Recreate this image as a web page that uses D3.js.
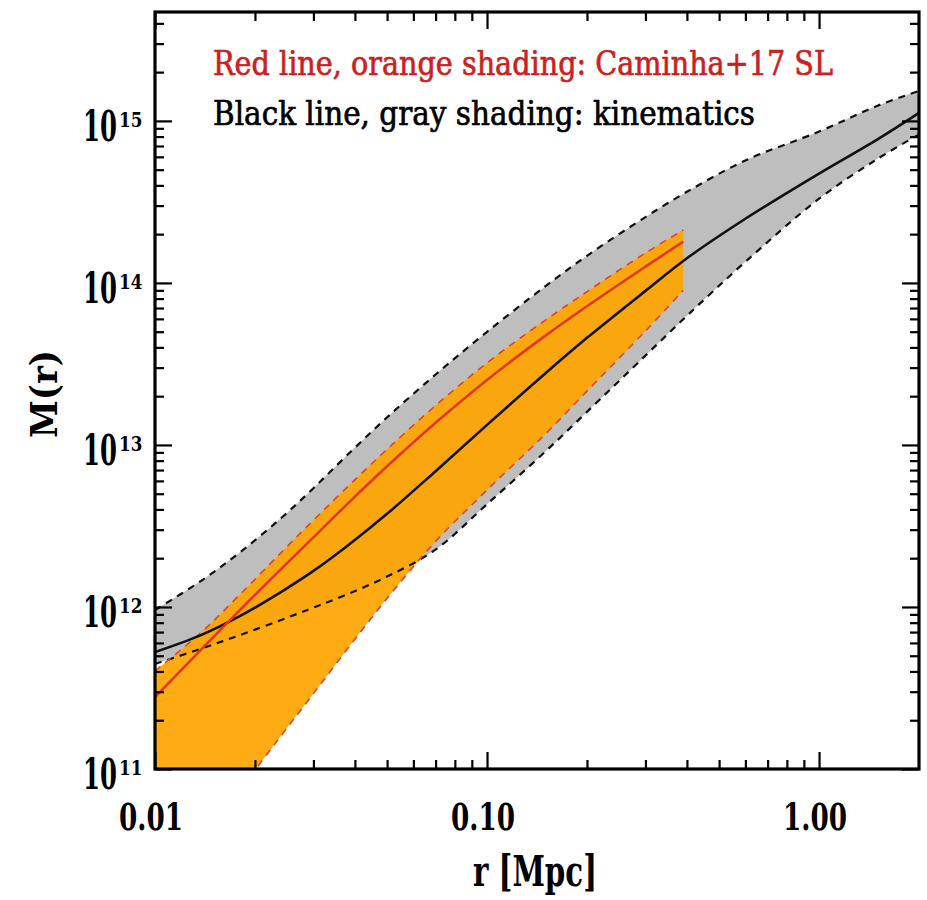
<!DOCTYPE html>
<html>
<head>
<meta charset="utf-8">
<script src="https://cdn.jsdelivr.net/npm/d3@7"></script>
<style>
  html, body { margin: 0; padding: 0; background: #ffffff; }
  svg { display: block; }
</style>
</head>
<body>
<svg id="chart" width="927" height="900"></svg>
<script>
// ---------------- data ----------------
// Kinematics (gray band + black line)
const rKin = [0.01, 0.0137, 0.018, 0.024, 0.03, 0.038, 0.05, 0.07, 0.1, 0.15, 0.2, 0.3, 0.4, 0.6, 1.0, 1.5, 2.0];
const kinMedian = [5.27e11, 6.68e11, 8.77e11, 1.24e12, 1.67e12, 2.39e12, 3.76e12, 6.89e12, 1.33e13, 2.77e13, 4.58e13, 8.93e13, 1.42e14, 2.49e14, 4.73e14, 7.69e14, 1.12e15];
const kinUpper  = [9.57e11, 1.44e12, 2.17e12, 3.54e12, 5.41e12, 8.69e12, 1.48e13, 2.72e13, 4.99e13, 9.55e13, 1.47e14, 2.55e14, 3.65e14, 5.70e14, 8.59e14, 1.24e15, 1.53e15];
const kinLower  = [4.45e11, 5.51e11, 6.70e11, 8.32e11, 9.91e11, 1.20e12, 1.54e12, 2.26e12, 4.31e12, 9.12e12, 1.60e13, 3.56e13, 6.27e13, 1.35e14, 3.31e14, 5.83e14, 8.24e14];

// Strong lensing, Caminha+17 (orange band + red line)
const rSL = [0.01, 0.0137, 0.018, 0.024, 0.03, 0.038, 0.05, 0.07, 0.1, 0.15, 0.2, 0.3, 0.39];
const slMedian = [2.78e11, 5.40e11, 9.55e11, 1.72e12, 2.69e12, 4.33e12, 7.38e12, 1.37e13, 2.52e13, 4.73e13, 7.18e13, 1.26e14, 1.80e14];
const slUpper  = [4.03e11, 6.89e11, 1.19e12, 2.17e12, 3.43e12, 5.51e12, 9.40e12, 1.75e13, 3.21e13, 5.90e13, 8.83e13, 1.53e14, 2.12e14];
const slLower  = [1.55e10, 3.59e10, 7.43e10, 1.61e11, 2.92e11, 5.52e11, 1.13e12, 2.54e12, 5.27e12, 1.17e13, 2.15e13, 5.05e13, 8.99e13];

// Axis ticks
const xDomain = [0.01, 2.0];
const yDomain = [1e11, 4.7e15];
const xMajorTicks = [0.01, 0.1, 1];
const xTickLabels = ["0.01", "0.10", "1.00"];
const yMajorExps = [11, 12, 13, 14, 15];
const xTitle = "r [Mpc]";
const yTitle = "M(r)";
const legendLines = ["Red line, orange shading: Caminha+17 SL", "Black line, gray shading: kinematics"];

// ---------------- layout ----------------
const svg = d3.select("#chart");
const pL = 155, pR = 919, pT = 12, pB = 769;
const x = d3.scaleLog().domain(xDomain).range([pL, pR]);
const y = d3.scaleLog().domain(yDomain).range([pB, pT]);

const serif = "'DejaVu Serif', 'Liberation Serif', serif";
const redText = "#cc1f1f";
const redLine = "#e2381a";
const orangeFill = "#ffa500";
const grayFill = "#bebebe";

svg.append("defs").append("clipPath").attr("id", "plotclip")
  .append("rect").attr("x", pL).attr("y", pT).attr("width", pR - pL).attr("height", pB - pT);

const plot = svg.append("g").attr("clip-path", "url(#plotclip)");

const kin = rKin.map((r, i) => ({ r, m: kinMedian[i], lo: kinLower[i], hi: kinUpper[i] }));
const sl = rSL.map((r, i) => ({ r, m: slMedian[i], lo: slLower[i], hi: slUpper[i] }));

const curve = d3.curveCatmullRom.alpha(0.5);
const area = d3.area().x(d => x(d.r)).y0(d => y(d.lo)).y1(d => y(d.hi)).curve(curve);
const lineM = d3.line().x(d => x(d.r)).y(d => y(d.m)).curve(curve);
const lineLo = d3.line().x(d => x(d.r)).y(d => y(d.lo)).curve(curve);
const lineHi = d3.line().x(d => x(d.r)).y(d => y(d.hi)).curve(curve);

// gray band
plot.append("path").datum(kin).attr("d", area).attr("fill", grayFill);
// orange band
plot.append("path").datum(sl).attr("d", area).attr("fill", orangeFill).attr("fill-opacity", 0.92);

// dashed boundaries
[lineLo, lineHi].forEach(g => {
  plot.append("path").datum(kin).attr("d", g).attr("fill", "none")
    .attr("stroke", "#111").attr("stroke-width", 2.2).attr("stroke-dasharray", "7,6");
});
[lineLo, lineHi].forEach(g => {
  plot.append("path").datum(sl).attr("d", g).attr("fill", "none")
    .attr("stroke", "#d9452a").attr("stroke-width", 1.6).attr("stroke-dasharray", "7,6");
});

// median lines
plot.append("path").datum(kin).attr("d", lineM).attr("fill", "none")
  .attr("stroke", "#111").attr("stroke-width", 2.6);
plot.append("path").datum(sl).attr("d", lineM).attr("fill", "none")
  .attr("stroke", redLine).attr("stroke-width", 2.6);

// ---------------- axes (IDL style, inward ticks on all sides) ----------------
function minorTicks(domain) {
  const out = [];
  const e0 = Math.floor(Math.log10(domain[0])), e1 = Math.ceil(Math.log10(domain[1]));
  for (let e = e0; e <= e1; e++) {
    for (let k = 2; k <= 9; k++) {
      const v = k * Math.pow(10, e);
      if (v > domain[0] * 1.0001 && v < domain[1] * 0.9999) out.push(v);
    }
  }
  return out;
}
const xMinor = minorTicks(xDomain);
const yMinor = minorTicks(yDomain);
const yMajor = yMajorExps.map(e => Math.pow(10, e));

function styleAxis(g) {
  g.select(".domain").remove();
  g.selectAll(".tick line").attr("stroke", "#000").attr("stroke-width", 2.2);
  g.selectAll(".tick text").remove();
}
const axes = svg.append("g");
axes.append("g").attr("transform", `translate(0,${pB})`)
  .call(d3.axisBottom(x).tickValues(xMinor).tickSize(-9).tickFormat("")).call(styleAxis);
axes.append("g").attr("transform", `translate(0,${pB})`)
  .call(d3.axisBottom(x).tickValues(xMajorTicks).tickSize(-17).tickFormat("")).call(styleAxis);
axes.append("g").attr("transform", `translate(0,${pT})`)
  .call(d3.axisTop(x).tickValues(xMinor).tickSize(-9).tickFormat("")).call(styleAxis);
axes.append("g").attr("transform", `translate(0,${pT})`)
  .call(d3.axisTop(x).tickValues(xMajorTicks).tickSize(-17).tickFormat("")).call(styleAxis);
axes.append("g").attr("transform", `translate(${pL},0)`)
  .call(d3.axisLeft(y).tickValues(yMinor).tickSize(-9).tickFormat("")).call(styleAxis);
axes.append("g").attr("transform", `translate(${pL},0)`)
  .call(d3.axisLeft(y).tickValues(yMajor).tickSize(-17).tickFormat("")).call(styleAxis);
axes.append("g").attr("transform", `translate(${pR},0)`)
  .call(d3.axisRight(y).tickValues(yMinor).tickSize(-9).tickFormat("")).call(styleAxis);
axes.append("g").attr("transform", `translate(${pR},0)`)
  .call(d3.axisRight(y).tickValues(yMajor).tickSize(-17).tickFormat("")).call(styleAxis);

// frame
svg.append("rect").attr("x", pL).attr("y", pT).attr("width", pR - pL).attr("height", pB - pT)
  .attr("fill", "none").attr("stroke", "#000").attr("stroke-width", 3.2);

// x tick labels
svg.append("g").selectAll("text").data(xMajorTicks).join("text")
  .attr("x", d => x(d) - 4).attr("y", 830)
  .attr("text-anchor", "middle")
  .attr("font-family", serif).attr("font-weight", "bold").attr("font-size", 37)
  .attr("textLength", 64).attr("lengthAdjust", "spacingAndGlyphs")
  .text((d, i) => xTickLabels[i]);

// y tick labels: "10" plus a superscript exponent, each horizontally condensed by a transform
const yl = svg.append("g").selectAll("g").data(yMajorExps).join("g");
yl.append("text")
  .attr("transform", e => `translate(83,${y(Math.pow(10, e)) + 20}) scale(0.58,1)`)
  .attr("font-family", serif).attr("font-weight", "bold").attr("font-size", 42)
  .text("10");
yl.append("text")
  .attr("transform", e => `translate(119,${y(Math.pow(10, e)) + 6}) scale(0.8,1)`)
  .attr("font-family", serif).attr("font-weight", "bold").attr("font-size", 21)
  .text(e => String(e));

// axis titles
svg.append("text").attr("x", 535).attr("y", 886).attr("text-anchor", "middle")
  .attr("font-family", serif).attr("font-weight", "bold").attr("font-size", 42)
  .attr("textLength", 124).attr("lengthAdjust", "spacingAndGlyphs")
  .text(xTitle);
svg.append("text").attr("transform", "translate(57,394) rotate(-90)").attr("text-anchor", "middle")
  .attr("font-family", serif).attr("font-weight", "bold").attr("font-size", 38)
  .attr("textLength", 88).attr("lengthAdjust", "spacingAndGlyphs")
  .text(yTitle);

// legend text
svg.append("text").attr("x", 213).attr("y", 75)
  .attr("font-family", serif).attr("font-size", 33).attr("fill", redText)
  .attr("stroke", redText).attr("stroke-width", 0.7)
  .attr("textLength", 620).attr("lengthAdjust", "spacingAndGlyphs")
  .text(legendLines[0]);
svg.append("text").attr("x", 213).attr("y", 125)
  .attr("font-family", serif).attr("font-size", 33).attr("fill", "#000")
  .attr("stroke", "#000").attr("stroke-width", 0.7)
  .attr("textLength", 542).attr("lengthAdjust", "spacingAndGlyphs")
  .text(legendLines[1]);
</script>
</body>
</html>
